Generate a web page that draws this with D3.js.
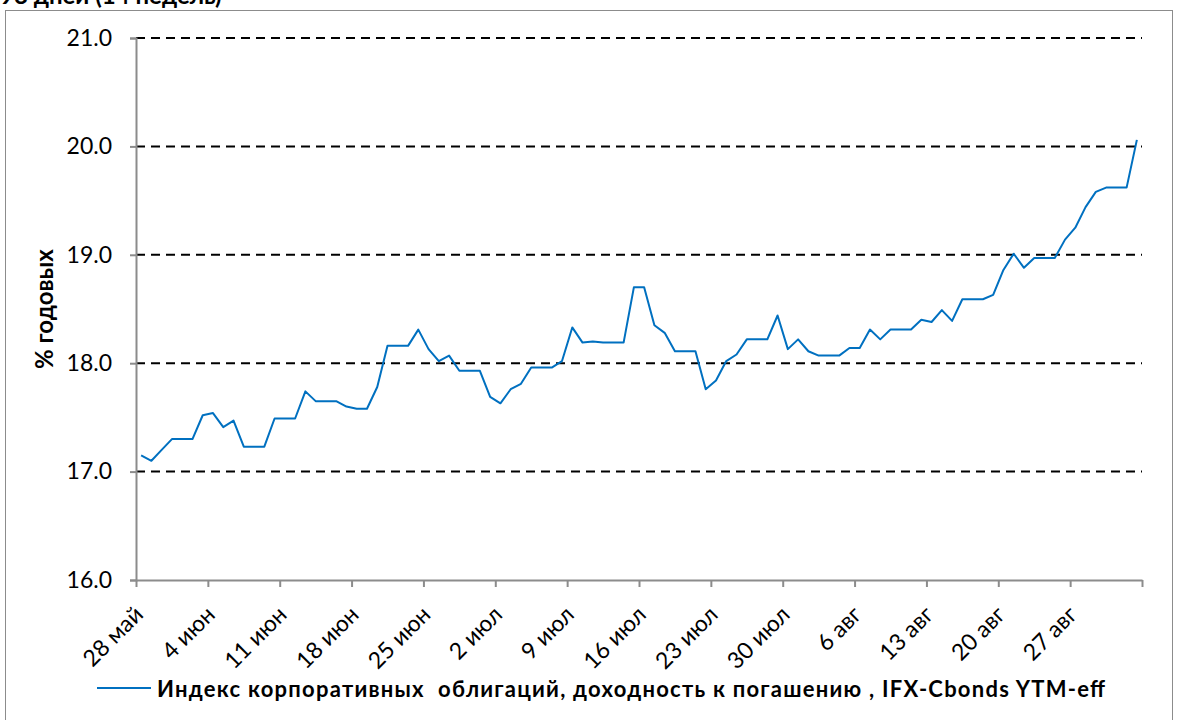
<!DOCTYPE html>
<html>
<head>
<meta charset="UTF-8" />
<script src="https://d3js.org/d3.v7.min.js"></script>
<style>
  body { margin: 0; background: #fff; }
  svg text { font-family: Lato, "Open Sans", sans-serif; }
</style>
</head>
<body>
<div id="chart"></div>
<script>
// данные: индекс корпоративных облигаций, % годовых, по дням с 28 мая 2024
const startDay = "2024-05-28";
const endDay = "2024-09-03";
const yieldValues = [
  17.15, 17.10, 17.20, 17.30, 17.30, 17.30, 17.52, 17.54, 17.41, 17.47,
  17.23, 17.23, 17.23, 17.49, 17.49, 17.49, 17.74, 17.65, 17.65, 17.65,
  17.60, 17.58, 17.58, 17.78, 18.16, 18.16, 18.16, 18.31, 18.13, 18.02,
  18.07, 17.93, 17.93, 17.93, 17.69, 17.63, 17.76, 17.81, 17.96, 17.96,
  17.96, 18.02, 18.33, 18.19, 18.20, 18.19, 18.19, 18.19, 18.70, 18.70,
  18.35, 18.28, 18.11, 18.11, 18.11, 17.76, 17.84, 18.02, 18.08, 18.22,
  18.22, 18.22, 18.44, 18.13, 18.22, 18.11, 18.07, 18.07, 18.07, 18.14,
  18.14, 18.31, 18.22, 18.31, 18.31, 18.31, 18.40, 18.38, 18.49, 18.39,
  18.59, 18.59, 18.59, 18.63, 18.86, 19.01, 18.88, 18.97, 18.97, 18.97,
  19.14, 19.25, 19.44, 19.58, 19.62, 19.62, 19.62, 20.06
];
const yTicks = [16, 17, 18, 19, 20, 21];
const xTickLabels = ["28 май", "4 июн", "11 июн", "18 июн", "25 июн", "2 июл", "9 июл",
  "16 июл", "23 июл", "30 июл", "6 авг", "13 авг", "20 авг", "27 авг", ""];
const seriesName = "Индекс корпоративных  облигаций, доходность к погашению , IFX-Cbonds YTM-eff";
const yTitle = "% годовых";
const chartTitle = "98 дней (14 недель)";

const w = 1184, h = 720;
const parse = d3.utcParse("%Y-%m-%d");
const start = parse(startDay), end = parse(endDay);

// точки стоят в середине дня, как в Excel
const data = yieldValues.map(function (v, i) {
  return { date: d3.utcHour.offset(d3.utcDay.offset(start, i), 12), value: v };
});

const svg = d3.select("#chart").append("svg")
  .attr("width", w).attr("height", h);

// рамка области диаграммы
svg.append("rect")
  .attr("x", 5.5).attr("y", 10.5)
  .attr("width", 1167).attr("height", 720)
  .attr("fill", "none").attr("stroke", "#8c8c8c").attr("stroke-width", 1);

svg.append("text")
  .attr("x", 0).attr("y", 4)
  .attr("font-size", 24).attr("font-weight", "bold")
  .text(chartTitle);

const x = d3.scaleUtc().domain([start, end]).range([136, 1142]);
const y = d3.scaleLinear().domain([16, 21]).range([580, 38]);

// сетка
svg.append("g").selectAll("line")
  .data(yTicks.filter(function (t) { return t > 16; }))
  .enter().append("line")
  .attr("x1", 136).attr("x2", 1142)
  .attr("y1", function (d) { return y(d); })
  .attr("y2", function (d) { return y(d); })
  .attr("stroke", "#000").attr("stroke-width", 2)
  .attr("stroke-dasharray", "9,6");

// ось Y
const yAxis = svg.append("g")
  .attr("transform", "translate(136,0)")
  .call(d3.axisLeft(y).tickValues(yTicks).tickFormat(d3.format(".1f")).tickSize(6).tickPadding(18));
yAxis.select(".domain").attr("stroke", "#8c8c8c").attr("stroke-width", 2);
yAxis.selectAll(".tick line").attr("stroke", "#8c8c8c").attr("stroke-width", 2);
yAxis.selectAll("text").attr("font-size", 23).attr("fill", "#000")
  .style("font-family", "Lato, sans-serif");

// ось X: тики по неделям
const weekTicks = d3.range(xTickLabels.length).map(function (i) { return d3.utcDay.offset(start, i * 7); });
const xAxis = svg.append("g")
  .attr("transform", "translate(0,580)")
  .call(d3.axisBottom(x).tickValues(weekTicks)
    .tickFormat(function (d, i) { return xTickLabels[i]; })
    .tickSize(7).tickSizeOuter(0));
xAxis.select(".domain").attr("stroke", "#8c8c8c").attr("stroke-width", 2);
xAxis.selectAll(".tick line").attr("stroke", "#8c8c8c").attr("stroke-width", 2);
xAxis.selectAll("text")
  .attr("font-size", 23).attr("fill", "#000")
  .attr("text-anchor", "end")
  .attr("x", 0).attr("y", 0).attr("dy", 0)
  .attr("transform", "translate(8,36) rotate(-45)")
  .style("font-family", "Lato, sans-serif");

// линия
const line = d3.line()
  .x(function (d) { return x(d.date); })
  .y(function (d) { return y(d.value); });

svg.append("path")
  .datum(data)
  .attr("d", line)
  .attr("fill", "none")
  .attr("stroke", "#0070C0")
  .attr("stroke-width", 2)
  .attr("stroke-linejoin", "round");

// подпись оси Y
svg.append("text")
  .attr("transform", "translate(53,309) rotate(-90)")
  .attr("text-anchor", "middle")
  .attr("font-size", 24).attr("font-weight", "bold")
  .text(yTitle);

// легенда
svg.append("line")
  .attr("x1", 97).attr("x2", 151).attr("y1", 688).attr("y2", 688)
  .attr("stroke", "#0070C0").attr("stroke-width", 2);
svg.append("text")
  .attr("x", 157).attr("y", 697)
  .attr("font-size", 22).attr("font-weight", "bold")
  .attr("textLength", 948).attr("lengthAdjust", "spacing")
  .style("white-space", "pre")
  .text(seriesName);
</script>
</body>
</html>
